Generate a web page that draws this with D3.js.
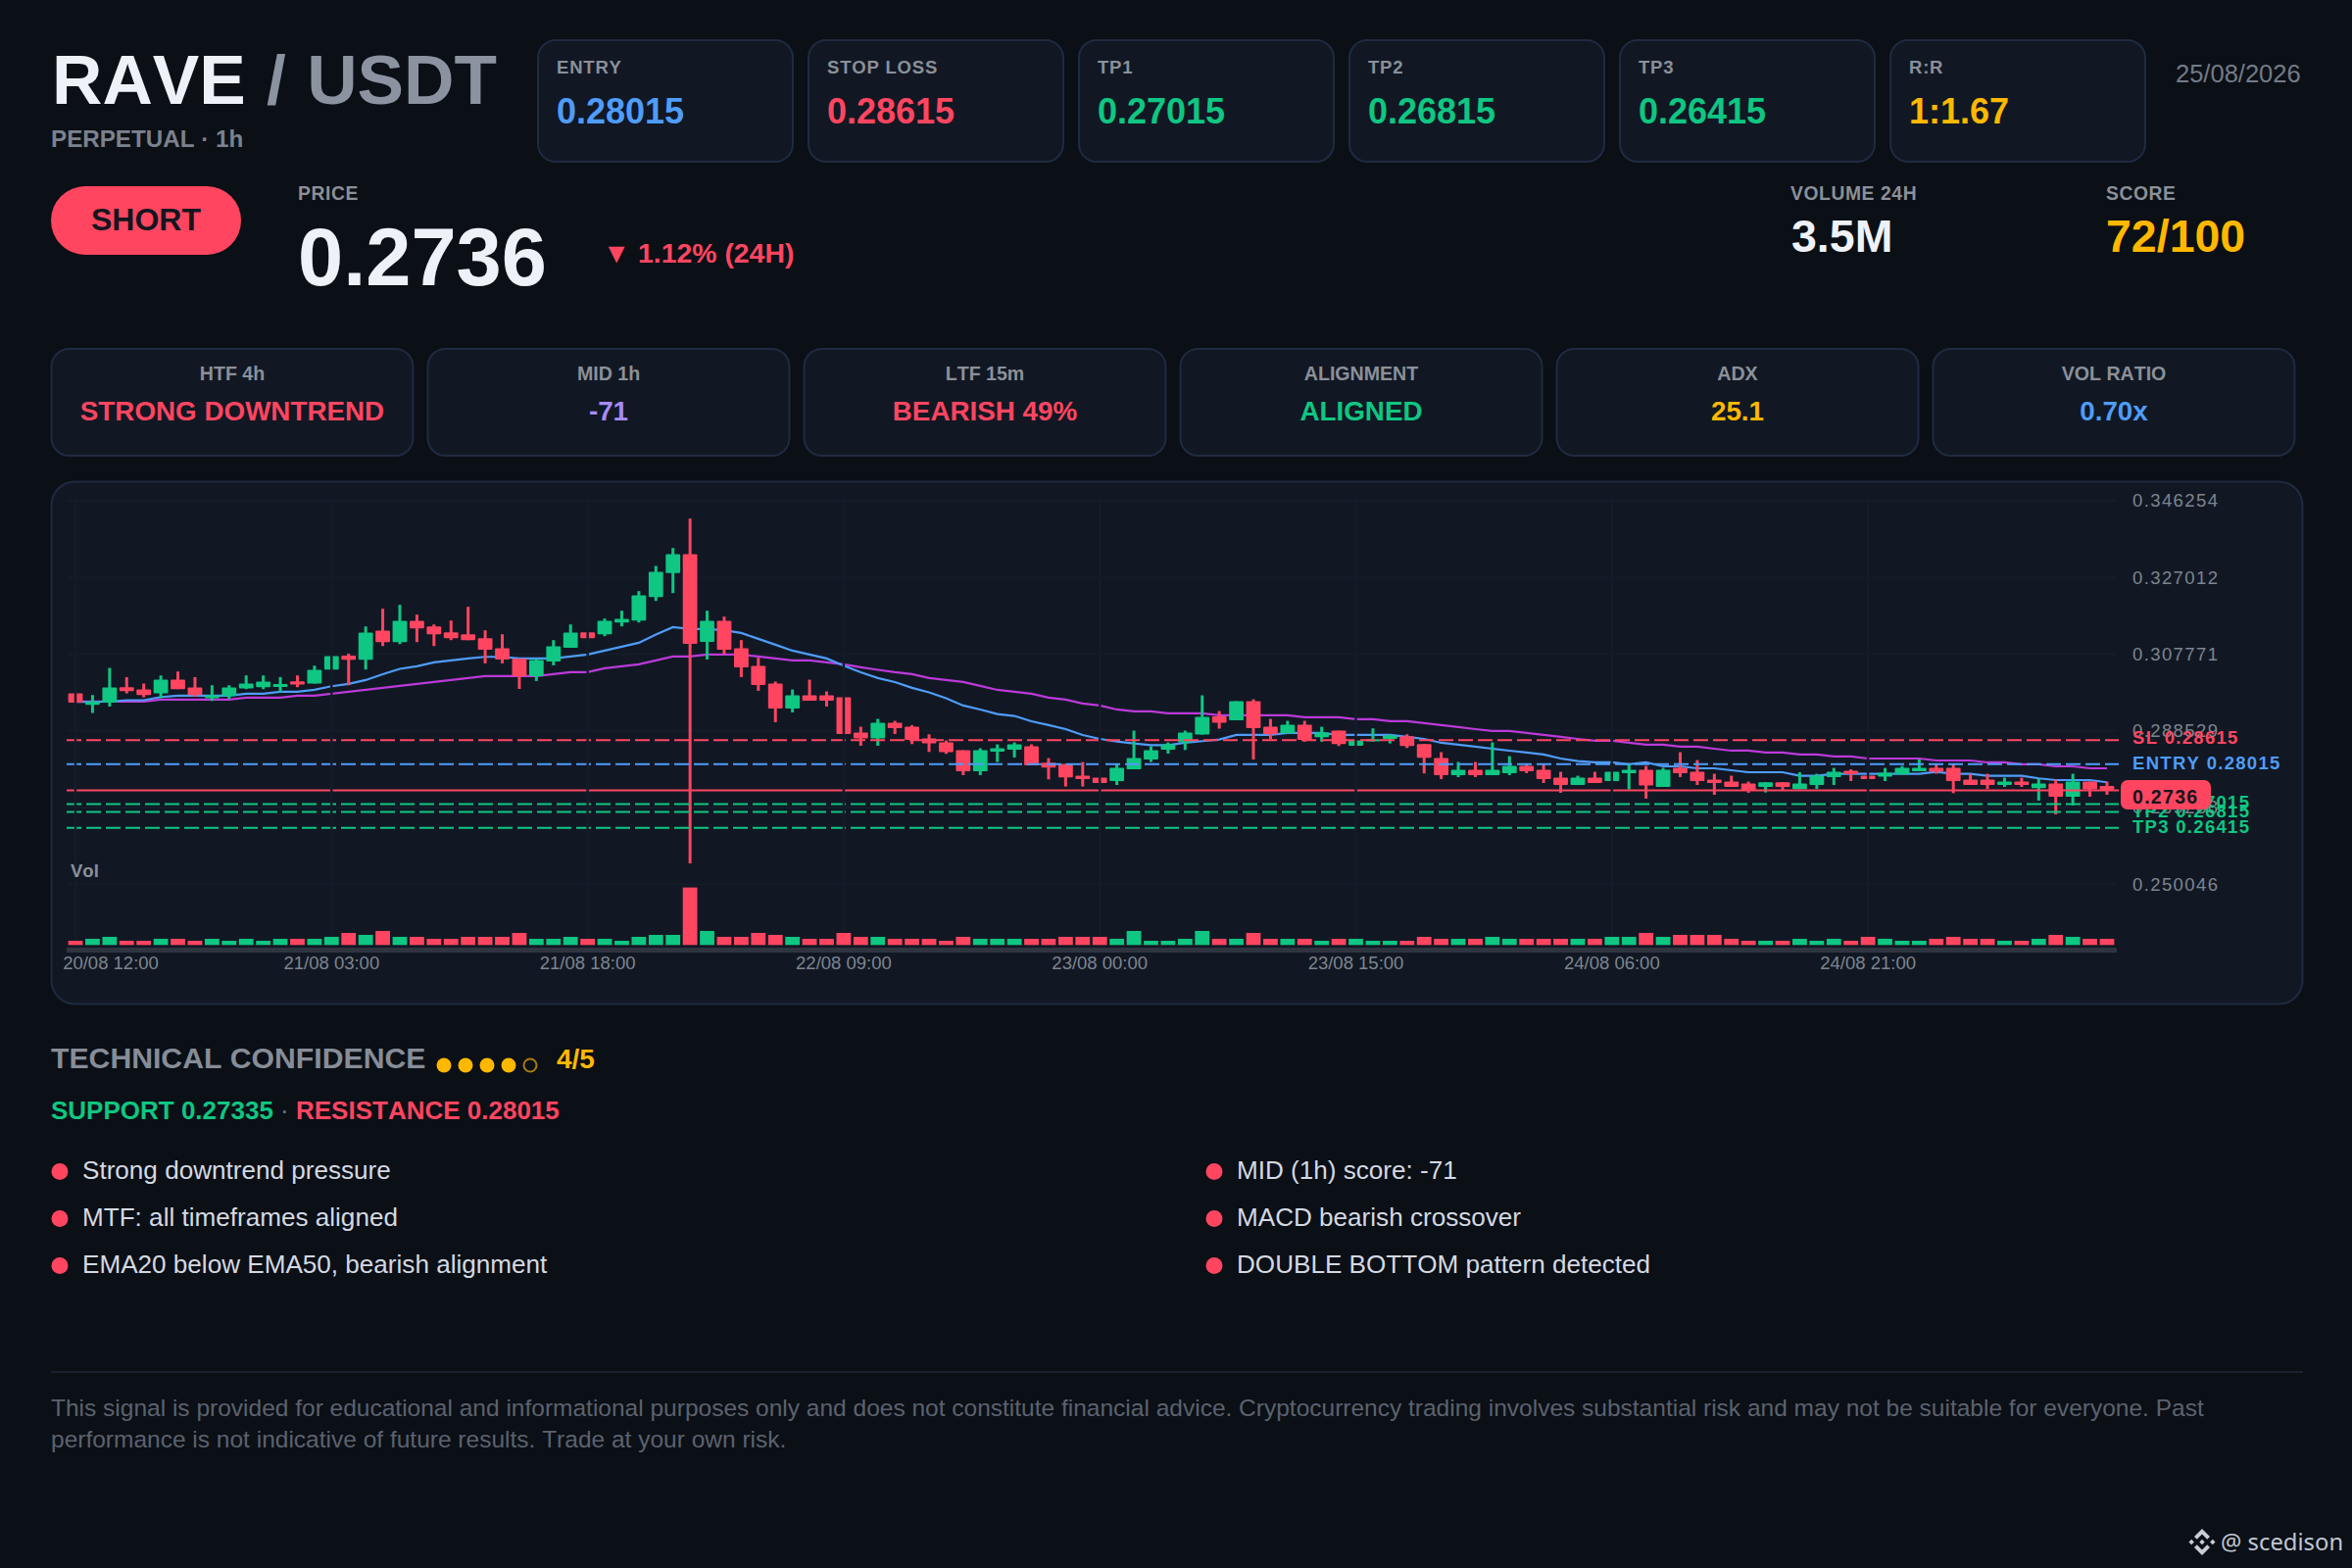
<!DOCTYPE html>
<html>
<head>
<meta charset="utf-8">
<title>RAVE / USDT</title>
<script src="https://d3js.org/d3.v7.min.js"></script>
<style>
  html, body { margin: 0; padding: 0; background: #0b0f16; }
  svg { display: block; }
  text { font-family: "Liberation Sans", Arial, sans-serif; font-kerning: none; }
</style>
</head>
<body>
<script>
// header cards
var levelLabels = ["ENTRY", "STOP LOSS", "TP1", "TP2", "TP3", "R:R"];
var levelValues = ["0.28015", "0.28615", "0.27015", "0.26815", "0.26415", "1:1.67"];
var filterLabels = ["HTF 4h", "MID 1h", "LTF 15m", "ALIGNMENT", "ADX", "VOL RATIO"];
var filterValues = ["STRONG DOWNTREND", "-71", "BEARISH 49%", "ALIGNED", "25.1", "0.70x"];
var reasonsLeft = ["Strong downtrend pressure", "MTF: all timeframes aligned", "EMA20 below EMA50, bearish alignment"];
var reasonsRight = ["MID (1h) score: -71", "MACD bearish crossover", "DOUBLE BOTTOM pattern detected"];
var disclaimer = [
  "This signal is provided for educational and informational purposes only and does not constitute financial advice. Cryptocurrency trading involves substantial risk and may not be suitable for everyone. Past",
  "performance is not indicative of future results. Trade at your own risk."
];

// chart ticks
var timeTicks = [0, 15, 30, 45, 60, 75, 90, 105];
var timeLabels = ["20/08 12:00", "21/08 03:00", "21/08 18:00", "22/08 09:00", "23/08 00:00", "23/08 15:00", "24/08 06:00", "24/08 21:00"];
var priceTicks = [0.346254, 0.327012, 0.307771, 0.288529, 0.269288, 0.250046];

// price lines
var slPrice = 0.28615, entryPrice = 0.28015, lastPrice = 0.2736;
var tpPrices = [0.27015, 0.26815, 0.26415];
var tpNames = ["TP1", "TP2", "TP3"];

// candles
var open = [
  .29791,.29503,.29560,.29946,.29889,.29791,.30135,.29938,.29668,.29724,
  .29914,.29946,.29953,.30093,.30037,.30389,.30740,.30635,.31365,.31077,
  .31611,.31471,.31323,.31274,.31176,.30922,.30667,.30224,.30593,.30937,
  .31323,.31274,.31569,.31619,.32209,.32807,.33284,.31085,.31611,.30922,
  .30480,.30037,.29412,.29742,.29742,.29692,.28807,.28659,.29053,.28954,
  .28659,.28561,.28364,.27838,.28330,.28379,.28462,.28052,.28020,.27724,
  .27675,.27592,.27887,.28133,.28379,.28561,.28758,.29215,.29117,.29594,
  .28954,.28790,.29004,.28691,.28856,.28477,.28585,.28649,.28716,.28519,
  .28167,.27739,.27872,.27739,.27788,.27970,.27872,.27675,.27493,.27675,
  .27592,.27788,.27872,.27444,.27921,.27823,.27626,.27577,.27528,.27444,
  .27560,.27387,.27493,.27690,.27847,.27724,.27700,.27756,.27838,.27921,
  .27921,.27626,.27626,.27493,.27577,.27412,.27528,.27198,.27577,.27469
];
var high = [
  .29791,.29749,.30430,.30199,.30037,.30241,.30339,.30199,.29995,.29995,
  .30241,.30241,.30199,.30241,.30487,.30726,.30790,.31471,.31914,.32012,
  .31766,.31520,.31619,.31963,.31373,.31274,.30667,.30667,.31127,.31520,
  .31323,.31668,.31865,.32357,.32989,.33439,.34177,.31865,.31717,.31127,
  .30684,.30086,.29889,.30135,.29840,.29692,.28954,.29151,.29102,.28994,
  .28765,.28610,.28364,.28413,.28512,.28561,.28512,.28167,.28020,.28069,
  .27675,.28020,.28856,.28462,.28561,.28856,.29742,.29348,.29594,.29643,
  .29151,.29102,.29102,.28954,.28856,.28610,.28913,.28765,.28765,.28519,
  .28315,.28069,.28069,.28561,.28216,.28020,.28020,.27823,.27724,.27823,
  .27823,.28020,.27970,.27921,.28315,.28118,.27774,.27724,.27577,.27560,
  .27560,.27813,.27774,.27921,.27887,.27724,.27921,.27970,.28133,.28034,
  .28027,.27774,.27774,.27675,.27675,.27641,.27626,.27774,.27577,.27577
];
var low = [
  .29560,.29299,.29461,.29791,.29692,.29668,.29897,.29707,.29601,.29651,
  .29897,.29897,.29815,.29946,.30037,.30389,.29995,.30389,.30979,.31028,
  .31077,.30979,.31127,.31127,.30544,.30544,.29904,.30101,.30494,.30937,
  .31176,.31225,.31471,.31569,.32111,.32307,.25525,.30642,.30775,.30199,
  .29855,.29068,.29314,.29609,.29461,.28772,.28477,.28477,.28772,.28519,
  .28322,.28273,.27739,.27739,.28069,.28182,.27985,.27633,.27454,.27454,
  .27542,.27493,.27887,.28069,.28280,.28371,.28758,.28905,.29117,.28133,
  .28642,.28790,.28576,.28576,.28470,.28477,.28585,.28536,.28421,.27781,
  .27641,.27690,.27690,.27739,.27739,.27788,.27542,.27297,.27493,.27542,
  .27592,.27380,.27149,.27444,.27690,.27493,.27247,.27444,.27297,.27306,
  .27370,.27387,.27395,.27493,.27592,.27641,.27592,.27756,.27838,.27774,
  .27289,.27493,.27395,.27444,.27444,.27100,.26755,.26980,.27198,.27247
];
var close = [
  .29560,.29584,.29938,.29847,.29749,.30135,.29897,.29749,.29742,.29938,
  .30037,.30086,.30027,.30012,.30381,.30726,.30635,.31316,.31077,.31611,
  .31422,.31274,.31176,.31127,.30888,.30642,.30224,.30627,.30972,.31316,
  .31176,.31611,.31660,.32251,.32841,.33284,.31036,.31611,.30888,.30445,
  .30002,.29412,.29742,.29609,.29609,.28772,.28659,.29053,.28920,.28625,
  .28536,.28315,.27838,.28364,.28413,.28512,.27985,.27929,.27683,.27641,
  .27542,.27921,.28167,.28364,.28512,.28807,.29200,.29053,.29594,.28920,
  .28765,.29004,.28625,.28807,.28519,.28610,.28642,.28733,.28470,.28175,
  .27739,.27872,.27739,.27872,.27970,.27838,.27641,.27493,.27675,.27542,
  .27823,.27872,.27478,.27872,.27788,.27592,.27542,.27444,.27346,.27560,
  .27444,.27528,.27724,.27823,.27764,.27641,.27798,.27921,.27921,.27823,
  .27592,.27493,.27493,.27577,.27493,.27528,.27198,.27577,.27380,.27370
];
var volume = [
  65,95,125,65,65,95,95,65,95,65,
  95,65,95,95,95,125,185,155,215,125,
  125,95,95,125,125,125,185,95,95,125,
  95,95,65,125,155,155,880,215,125,125,
  185,155,125,95,95,185,125,125,95,95,
  95,65,125,95,95,95,95,95,125,125,
  125,95,215,65,65,95,215,95,95,185,
  95,95,95,65,95,95,65,65,65,125,
  95,95,95,125,95,95,95,95,95,95,
  125,125,185,125,155,155,155,95,65,65,
  65,95,65,95,65,125,95,65,65,95,
  125,95,95,65,65,95,155,125,95,95
];
var ema20 = [
  .29577,.29577,.29584,.29619,.29619,.29700,.29732,.29732,.29732,.29732,
  .29781,.29781,.29830,.29830,.29879,.29970,.30027,.30125,.30273,.30406,
  .30470,.30568,.30617,.30667,.30708,.30708,.30667,.30667,.30667,.30716,
  .30765,.30863,.30962,.31060,.31267,.31454,.31405,.31405,.31373,.31306,
  .31159,.31011,.30863,.30765,.30667,.30487,.30322,.30175,.30076,.29929,
  .29815,.29668,.29486,.29387,.29274,.29225,.29092,.28994,.28895,.28748,
  .28649,.28585,.28536,.28494,.28494,.28551,.28593,.28635,.28748,.28748,
  .28748,.28797,.28797,.28797,.28748,.28748,.28748,.28748,.28699,.28649,
  .28551,.28502,.28453,.28403,.28354,.28305,.28256,.28157,.28093,.28059,
  .28059,.28010,.28059,.27960,.27960,.27911,.27911,.27862,.27813,.27813,
  .27813,.27724,.27724,.27774,.27774,.27774,.27774,.27774,.27774,.27823,
  .27774,.27774,.27724,.27724,.27724,.27658,.27616,.27616,.27616,.27560
];
var ema50 = [
  .29584,.29584,.29584,.29584,.29584,.29633,.29633,.29633,.29633,.29633,
  .29683,.29683,.29683,.29732,.29732,.29781,.29830,.29879,.29929,.29978,
  .30027,.30076,.30125,.30175,.30224,.30224,.30224,.30224,.30273,.30322,
  .30322,.30421,.30470,.30519,.30617,.30716,.30716,.30765,.30765,.30765,
  .30716,.30667,.30617,.30617,.30568,.30519,.30445,.30381,.30322,.30273,
  .30175,.30125,.30076,.29978,.29879,.29830,.29781,.29683,.29633,.29535,
  .29486,.29387,.29338,.29338,.29289,.29289,.29289,.29240,.29240,.29240,
  .29240,.29240,.29191,.29191,.29191,.29141,.29141,.29092,.29092,.29043,
  .28994,.28945,.28895,.28846,.28846,.28797,.28748,.28699,.28649,.28600,
  .28600,.28551,.28502,.28502,.28453,.28453,.28403,.28354,.28354,.28305,
  .28305,.28256,.28256,.28207,.28207,.28157,.28157,.28157,.28157,.28108,
  .28108,.28108,.28059,.28059,.28010,.28010,.27960,.27960,.27911,.27911
];

var RED = "#ff4560", GREEN = "#0fc682", BLUE = "#4f9cf9", YELLOW = "#ffb800", PURPLE = "#a78bfa";
var GREY = "#8b9099", WHITE = "#eef2f8";
var CARD = "#111824", EDGE = "#1e2b40";
var levelColors = [BLUE, RED, GREEN, GREEN, GREEN, YELLOW];
var filterColors = [RED, PURPLE, RED, GREEN, YELLOW, BLUE];

var svg = d3.select("body").append("svg")
  .attr("width", 2400)
  .attr("height", 1600);

function label(parent, x, y, str, size, weight, fill, anchor, spacing) {
  return parent.append("text")
    .attr("x", x)
    .attr("y", y)
    .attr("font-size", size)
    .attr("font-weight", weight)
    .attr("fill", fill)
    .attr("text-anchor", anchor || "start")
    .style("letter-spacing", spacing ? spacing + "px" : null)
    .text(str);
}

function card(x, y, w, h) {
  svg.append("rect")
    .attr("x", x).attr("y", y)
    .attr("width", w).attr("height", h)
    .attr("rx", 18)
    .attr("fill", CARD)
    .attr("stroke", EDGE)
    .attr("stroke-width", 2);
}

// title
var title = label(svg, 53, 106, "RAVE", 71.2, "bold", WHITE)
  .style("word-spacing", "1.5px");
title.append("tspan").attr("fill", "#8b93a1").text(" / USDT");
label(svg, 52, 150, "PERPETUAL \u00b7 1h", 24.2, "bold", "#7b828d");

// level cards
levelLabels.forEach(function(name, i) {
  var x = 549 + i * 276;
  card(x, 41, 260, 124);
  label(svg, x + 19, 75, name, 18.5, "bold", GREY, "start", 0.8);
  label(svg, x + 19, 126, levelValues[i], 36, "bold", levelColors[i]);
});
label(svg, 2220, 84, "25/08/2026", 25.5, "normal", "#737b87");

// signal row
svg.append("rect")
  .attr("x", 52).attr("y", 190)
  .attr("width", 194).attr("height", 70)
  .attr("rx", 35)
  .attr("fill", RED);
label(svg, 149, 235, "SHORT", 32, "bold", "#14161f", "middle");
label(svg, 304, 203.5, "PRICE", 19.3, "bold", GREY, "start", 0.6);
label(svg, 304, 291, "0.2736", 83, "bold", WHITE);
label(svg, 615, 268, "\u25bc 1.12% (24H)", 28.4, "bold", RED);
label(svg, 1827, 203.5, "VOLUME 24H", 19.3, "bold", GREY, "start", 0.6);
label(svg, 1828, 257, "3.5M", 46.5, "bold", WHITE);
label(svg, 2149, 203.5, "SCORE", 19.3, "bold", GREY, "start", 0.6);
label(svg, 2149, 257, "72/100", 46.5, "bold", YELLOW);

// filter cards
filterLabels.forEach(function(name, i) {
  var x = 52.5 + i * 384;
  card(x, 356, 369, 109);
  label(svg, x + 184.5, 388, name, 19.6, "bold", GREY, "middle");
  label(svg, x + 184.5, 429, filterValues[i], 27.8, "bold", filterColors[i], "middle");
});

// chart panel
svg.append("rect")
  .attr("x", 52.5).attr("y", 491.5)
  .attr("width", 2297).attr("height", 533)
  .attr("rx", 24)
  .attr("fill", CARD)
  .attr("stroke", EDGE)
  .attr("stroke-width", 2);

var xScale = d3.scaleBand()
  .domain(d3.range(open.length))
  .range([68.3, 2158.7])
  .paddingInner(0.15)
  .paddingOuter(0.075);

var yScale = d3.scaleLinear()
  .domain([0.250046, 0.346254])
  .range([902.2, 510.9]);

var volScale = d3.scaleLinear()
  .domain([0, d3.max(volume)])
  .range([964.3, 905.6]);

var plot = svg.append("g");
var GRID = "#151c29";

plot.selectAll("line.hgrid")
  .data(priceTicks)
  .enter().append("line")
  .attr("class", "hgrid")
  .attr("x1", 68).attr("x2", 2160)
  .attr("y1", function(d) { return yScale(d) })
  .attr("y2", function(d) { return yScale(d) })
  .attr("stroke", GRID)
  .attr("stroke-width", 2);

function emaLine(values, color) {
  var line = d3.line()
    .x(function(d, i) { return xScale(i) + xScale.bandwidth() / 2 })
    .y(function(d) { return yScale(d) });
  plot.append("path")
    .attr("d", line(values))
    .attr("fill", "none")
    .attr("stroke", color)
    .attr("stroke-width", 2.2);
}
emaLine(ema50, "#bc3ad8");
emaLine(ema20, BLUE);

function candleColor(i) {
  return close[i] >= open[i] ? GREEN : RED;
}

var candles = plot.selectAll("g.candle")
  .data(d3.range(open.length))
  .enter().append("g")
  .attr("class", "candle");

candles.append("rect")
  .attr("x", function(i) { return xScale(i) + xScale.bandwidth() / 2 - 1.5 })
  .attr("width", 3)
  .attr("y", function(i) { return yScale(high[i]) })
  .attr("height", function(i) { return yScale(low[i]) - yScale(high[i]) })
  .attr("fill", candleColor);

candles.append("rect")
  .attr("x", function(i) { return xScale(i) })
  .attr("width", xScale.bandwidth())
  .attr("y", function(i) { return yScale(Math.max(open[i], close[i])) })
  .attr("height", function(i) { return Math.max(2, Math.abs(yScale(open[i]) - yScale(close[i]))) })
  .attr("rx", 1)
  .attr("fill", candleColor);

function priceLine(price, color, dashed) {
  plot.append("line")
    .attr("x1", 68).attr("x2", 2162)
    .attr("y1", yScale(price)).attr("y2", yScale(price))
    .attr("stroke", color)
    .attr("stroke-width", 2)
    .attr("stroke-dasharray", dashed ? "15,5" : null);
}
priceLine(slPrice, RED, true);
priceLine(entryPrice, BLUE, true);
priceLine(lastPrice, RED, false);
tpPrices.forEach(function(p) { priceLine(p, GREEN, true) });

// vertical grid sits above the candles and cuts them
plot.selectAll("line.vgrid")
  .data(timeTicks)
  .enter().append("line")
  .attr("class", "vgrid")
  .attr("x1", function(d) { return xScale(d) + xScale.bandwidth() / 2 })
  .attr("x2", function(d) { return xScale(d) + xScale.bandwidth() / 2 })
  .attr("y1", 511).attr("y2", 966)
  .attr("stroke", GRID)
  .attr("stroke-width", 2.5);

// volume
plot.selectAll("rect.vol")
  .data(volume)
  .enter().append("rect")
  .attr("class", "vol")
  .attr("x", function(d, i) { return xScale(i) })
  .attr("width", xScale.bandwidth())
  .attr("y", function(d) { return volScale(d) })
  .attr("height", function(d) { return volScale(0) - volScale(d) })
  .attr("fill", function(d, i) { return candleColor(i) });

label(svg, 72, 895, "Vol", 18.5, "bold", GREY);

svg.append("rect")
  .attr("x", 68).attr("y", 967)
  .attr("width", 2092).attr("height", 5)
  .attr("fill", "#2f3540");

// axes
var xAxis = d3.axisBottom(xScale)
  .tickValues(timeTicks)
  .tickFormat(function(d, i) { return timeLabels[i] })
  .tickSize(0);

var xGroup = svg.append("g")
  .attr("transform", "translate(0,973)")
  .call(xAxis);
xGroup.select(".domain").remove();
xGroup.selectAll("text")
  .attr("font-family", "Liberation Sans")
  .attr("font-size", 18.5)
  .attr("fill", "#7e858f");
// first label is pushed in from the panel edge
xGroup.selectAll("text").filter(function(d) { return d === 0 })
  .attr("dx", 36);

var yAxis = d3.axisRight(yScale)
  .tickValues(priceTicks)
  .tickFormat(d3.format(".6f"))
  .tickSize(0)
  .tickPadding(0);

var yGroup = svg.append("g")
  .attr("transform", "translate(2176,0)")
  .call(yAxis);
yGroup.select(".domain").remove();
yGroup.selectAll("text")
  .attr("font-family", "Liberation Sans")
  .attr("font-size", 18.5)
  .attr("fill", "#7e858f")
  .style("letter-spacing", "1.4px");

// price line tags
label(svg, 2176, 759, "SL " + slPrice.toFixed(5), 18.5, "bold", RED, "start", 1.3);
label(svg, 2176, 785, "ENTRY " + entryPrice.toFixed(5), 18.5, "bold", BLUE, "start", 1.3);
tpPrices.forEach(function(p, i) {
  label(svg, 2176, yScale(p) + 5, tpNames[i] + " " + p.toFixed(5), 18.5, "bold", GREEN, "start", 1.3);
});
svg.append("rect")
  .attr("x", 2164).attr("y", 796)
  .attr("width", 92).attr("height", 30)
  .attr("rx", 7)
  .attr("fill", RED);
label(svg, 2176, 820, lastPrice.toFixed(4), 19.5, "bold", "#14161f", "start", 1.3);

// confidence
label(svg, 52, 1089.5, "TECHNICAL CONFIDENCE", 30.2, "bold", "#868d98");
var confidenceDots = [1, 1, 1, 1, 0];
var dotScale = d3.scalePoint().domain(d3.range(5)).range([453, 541]);
svg.selectAll("circle.conf")
  .data(confidenceDots)
  .enter().append("circle")
  .attr("class", "conf")
  .attr("cx", function(d, i) { return dotScale(i) })
  .attr("cy", 1087)
  .attr("r", function(d) { return d ? 7.5 : 6.5 })
  .attr("fill", function(d) { return d ? YELLOW : "none" })
  .attr("stroke", function(d) { return d ? "none" : "#a87c10" })
  .attr("stroke-width", 2);
label(svg, 568, 1089.5, "4/5", 28, "bold", YELLOW);

var levelsLine = label(svg, 52, 1141.5, "SUPPORT 0.27335", 26, "bold", GREEN);
levelsLine.append("tspan").attr("fill", "#6f7682").attr("font-weight", "normal").text(" \u00b7 ");
levelsLine.append("tspan").attr("fill", RED).text("RESISTANCE 0.28015");

// reasons
function reasons(list, dotX, textX) {
  list.forEach(function(str, i) {
    var y = 1195.5 + i * 48;
    svg.append("circle")
      .attr("cx", dotX).attr("cy", y).attr("r", 8.5)
      .attr("fill", RED);
    label(svg, textX, y + 7.5, str, 26.1, "normal", "#d4d9e1");
  });
}
reasons(reasonsLeft, 61, 84);
reasons(reasonsRight, 1239, 1262);

// footer
svg.append("line")
  .attr("x1", 52).attr("x2", 2350)
  .attr("y1", 1400).attr("y2", 1400)
  .attr("stroke", "#1a212e")
  .attr("stroke-width", 2);
disclaimer.forEach(function(str, i) {
  label(svg, 52, 1445 + i * 32, str, 24.5, "normal", "#5b626e");
});

// watermark
var logo = svg.append("g")
  .attr("transform", "translate(2247,1573.5)")
  .attr("fill", "#c8ced8");
logo.append("path").attr("d", "M0,-13.5L8,-5.5L5.2,-2.7L0,-7.9L-5.2,-2.7L-8,-5.5Z");
logo.append("path").attr("d", "M0,13.5L8,5.5L5.2,2.7L0,7.9L-5.2,2.7L-8,5.5Z");
logo.append("path").attr("d", "M0,-2.7L2.7,0L0,2.7L-2.7,0Z");
logo.append("path").attr("d", "M-10.8,-2.7L-8.1,0L-10.8,2.7L-13.5,0Z");
logo.append("path").attr("d", "M10.8,-2.7L13.5,0L10.8,2.7L8.1,0Z");
label(svg, 2266, 1582, "@ scedison", 23.8, "normal", "#c0c7d2")
  .style("font-family", "'Noto Sans'");
</script>
</body>
</html>
